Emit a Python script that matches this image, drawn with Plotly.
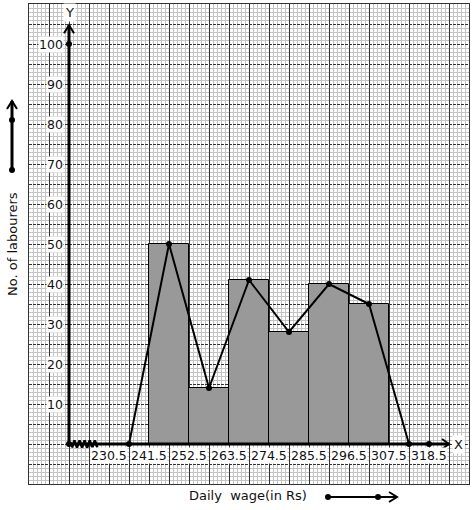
import plotly.graph_objects as go

# ---------------- data ----------------
class_lower = [241.5, 252.5, 263.5, 274.5, 285.5, 296.5]
frequency = [50, 14, 41, 28, 40, 35]
class_width = 11

poly_mid = [236, 247, 258, 269, 280, 291, 302, 313]
poly_freq = [0, 50, 14, 41, 28, 40, 35, 0]

x_tick_labels = ["230.5", "241.5", "252.5", "263.5", "274.5", "285.5", "296.5", "307.5", "318.5"]
y_tick_values = [10, 20, 30, 40, 50, 60, 70, 80, 90, 100]

origin_x = 219.5          # where the y axis sits (break in x axis)
extra_dots_x = [219.5, 219.5, 318.5]
extra_dots_y = [0, 100, 0]

x_title = "Daily  wage(in Rs)"
y_title = "No. of labourers"

# ---------------- geometry helpers ----------------
W, H = 474, 510
ML, MR, MT, MB = 29, 5, 4, 26
PW, PH = W - ML - MR, H - MT - MB


def px(xp):
    return (xp - ML) / PW


def py(yp):
    return (H - MB - yp) / PH


FONT = "DejaVu Sans"
MAJOR = "#333333"
MINOR = "#c4c4c4"

fig = go.Figure()

fig.add_trace(go.Bar(
    x=[lo + class_width / 2 for lo in class_lower], y=frequency, width=class_width,
    marker=dict(color="#999999", line=dict(color="black", width=1)),
    hoverinfo="skip"))

# zigzag (axis break) near origin
zz_x = [220.3 + i * 0.7 for i in range(11)]
zz_y = [(1 if i % 2 else -1) * 0.9 for i in range(11)]
fig.add_trace(go.Scatter(x=zz_x, y=zz_y, mode="lines",
                         line=dict(color="black", width=2.5), hoverinfo="skip"))

fig.add_trace(go.Scatter(x=poly_mid, y=poly_freq, mode="lines+markers",
                         line=dict(color="black", width=2),
                         marker=dict(color="black", size=6), cliponaxis=False))

fig.add_trace(go.Scatter(x=extra_dots_x, y=extra_dots_y, mode="markers",
                         marker=dict(color="black", size=6), cliponaxis=False))

shapes = []
# axes lines
shapes.append(dict(type="line", xref="x", yref="y", x0=origin_x, y0=0, x1=324, y1=0,
                   line=dict(color="black", width=3)))
shapes.append(dict(type="line", xref="x", yref="y", x0=origin_x, y0=0, x1=origin_x, y1=104.7,
                   line=dict(color="black", width=3)))
# arrowheads (pixel-sized)
shapes.append(dict(type="path", xref="x", yref="y", xsizemode="pixel", ysizemode="pixel",
                   xanchor=324, yanchor=0, path="M -7,-5 L 0,0 L -7,5",
                   line=dict(color="black", width=2)))
shapes.append(dict(type="path", xref="x", yref="y", xsizemode="pixel", ysizemode="pixel",
                   xanchor=origin_x, yanchor=104.7, path="M -5,-8 L 0,0 L 5,-8",
                   line=dict(color="black", width=2)))

# left legend arrow
shapes.append(dict(type="line", xref="paper", yref="paper", x0=px(12), y0=py(170), x1=px(12), y1=py(101),
                   line=dict(color="black", width=3)))
shapes.append(dict(type="path", xref="paper", yref="paper", xsizemode="pixel", ysizemode="pixel",
                   xanchor=px(12), yanchor=py(101), path="M -5,-8 L 0,0 L 5,-8",
                   line=dict(color="black", width=2)))
for yy in (120, 170):
    shapes.append(dict(type="circle", xref="paper", yref="paper", xsizemode="pixel", ysizemode="pixel",
                       xanchor=px(12), yanchor=py(yy), x0=-3, x1=3, y0=-3, y1=3,
                       fillcolor="black", line=dict(color="black", width=0)))

# bottom legend arrow
shapes.append(dict(type="line", xref="paper", yref="paper", x0=px(328), y0=py(497), x1=px(397), y1=py(497),
                   line=dict(color="black", width=2)))
shapes.append(dict(type="path", xref="paper", yref="paper", xsizemode="pixel", ysizemode="pixel",
                   xanchor=px(397), yanchor=py(497), path="M -8,-5 L 0,0 L -8,5",
                   line=dict(color="black", width=2)))
for xx in (328, 378):
    shapes.append(dict(type="circle", xref="paper", yref="paper", xsizemode="pixel", ysizemode="pixel",
                       xanchor=px(xx), yanchor=py(497), x0=-3, x1=3, y0=-3, y1=3,
                       fillcolor="black", line=dict(color="black", width=0)))

annotations = []
edges = [class_lower[0] - class_width] + class_lower + [class_lower[-1] + class_width, class_lower[-1] + 2 * class_width]
for e, lab in zip(edges, x_tick_labels):
    annotations.append(dict(x=e, y=0, xref="x", yref="y", text=lab, showarrow=False,
                            xanchor="center", yanchor="middle", yshift=-11,
                            font=dict(family=FONT, size=12.5, color="#111"),
                            bgcolor="white", borderpad=0))
for v in y_tick_values:
    annotations.append(dict(x=origin_x, y=v, xref="x", yref="y", text=str(v), showarrow=False,
                            xanchor="right", yanchor="middle", xshift=-5,
                            font=dict(family=FONT, size=12.5, color="#111"),
                            bgcolor="white", borderpad=0))
annotations.append(dict(x=origin_x, y=py(12), xref="x", yref="paper", text="Y", showarrow=False,
                        xanchor="center", yanchor="middle",
                        font=dict(family=FONT, size=13, color="#111"), bgcolor="white", borderpad=1))
annotations.append(dict(x=px(458), y=0, xref="paper", yref="y", text="X", showarrow=False,
                        xanchor="center", yanchor="middle",
                        font=dict(family=FONT, size=13, color="#111"), bgcolor="white", borderpad=1))
annotations.append(dict(x=px(248), y=py(496), xref="paper", yref="paper", text=x_title, showarrow=False,
                        xanchor="center", yanchor="middle",
                        font=dict(family=FONT, size=13, color="#111")))
annotations.append(dict(x=px(12), y=py(244), xref="paper", yref="paper", text=y_title, showarrow=False,
                        xanchor="center", yanchor="middle", textangle=-90,
                        font=dict(family=FONT, size=13, color="#111")))

fig.update_layout(
    width=W, height=H, margin=dict(l=ML, r=MR, t=MT, b=MB, pad=0, autoexpand=False),
    paper_bgcolor="white", plot_bgcolor="white", showlegend=False,
    bargap=0, shapes=shapes, annotations=annotations,
    xaxis=dict(range=[208.5, 329.5], tick0=208.5, dtick=5.5, showgrid=True, gridcolor=MAJOR,
               gridwidth=1, showticklabels=False, ticks="", zeroline=False,
               showline=True, mirror=True, linecolor=MAJOR, linewidth=1,
               minor=dict(tick0=208.5, dtick=1.1, showgrid=True, gridcolor=MINOR, gridwidth=1,
                          griddash="solid")),
    yaxis=dict(range=[-10, 110], tick0=0, dtick=5, showgrid=True, gridcolor=MAJOR,
               gridwidth=1, griddash="3px,1px", showticklabels=False, ticks="", zeroline=False,
               showline=True, mirror=True, linecolor=MAJOR, linewidth=1,
               minor=dict(tick0=0, dtick=1, showgrid=True, gridcolor=MINOR, gridwidth=1,
                          griddash="solid")),
)

fig.write_html("out.html", config={"displayModeBar": False},
               post_script="document.body.style.margin='0';document.body.style.overflow='hidden';")
